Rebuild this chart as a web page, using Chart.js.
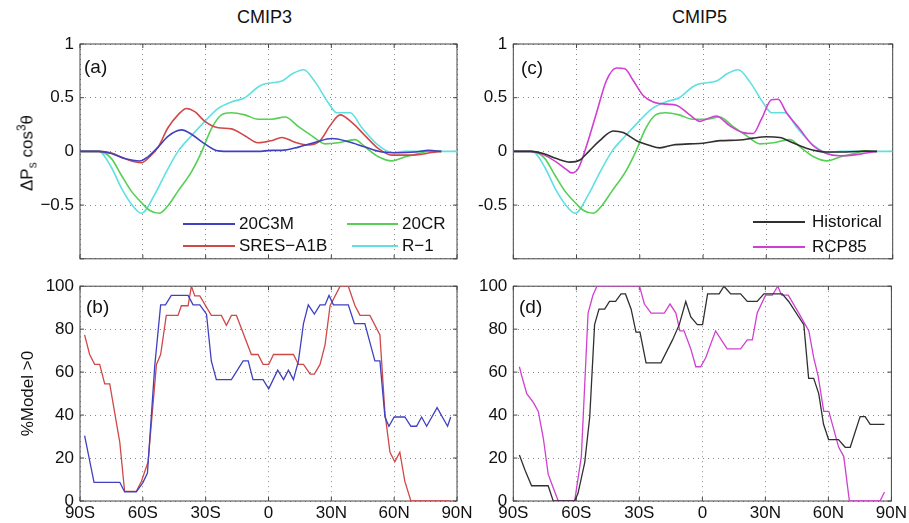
<!DOCTYPE html>
<html>
<head>
<meta charset="utf-8">
<script src="https://cdn.jsdelivr.net/npm/chart.js@4"></script>
<style>
  body { margin: 0; background: #fff; width: 909px; height: 523px; position: relative; overflow: hidden;
         font-family: "Liberation Sans", Arial, sans-serif; color: #111; }
  .box { position: absolute; }
  .txt { position: absolute; white-space: nowrap; line-height: 20px; }
  .key { position: absolute; height: 2px; }
  .ylab { position: absolute; transform: translate(-50%, -50%) rotate(-90deg); white-space: nowrap; font-size: 17px; }
  .ylab sub, .ylab sup { font-size: 12px; }
</style>
</head>
<body>

<div class="txt" style="left:237px;top:7px;font-size:18px">CMIP3</div>
<div class="txt" style="left:672px;top:7px;font-size:18px">CMIP5</div>

<div class="box" style="left:0;top:0"><canvas id="pa" width="480" height="275"></canvas></div>
<div class="box" style="left:440px;top:0"><canvas id="pc" width="469" height="275"></canvas></div>
<div class="box" style="left:0;top:270px"><canvas id="pb" width="480" height="253"></canvas></div>
<div class="box" style="left:440px;top:270px"><canvas id="pd" width="469" height="253"></canvas></div>

<div class="ylab" style="left:27px;top:153px">&Delta;P<sub>s</sub> cos<sup>3</sup>&theta;</div>

<div class="txt" style="left:84px;top:57px;font-size:19px">(a)</div>
<div class="txt" style="left:86px;top:297px;font-size:19px">(b)</div>
<div class="txt" style="left:521px;top:58px;font-size:19px">(c)</div>
<div class="txt" style="left:519px;top:297px;font-size:19px">(d)</div>

<!-- legend (a) -->
<div class="key" style="left:183px;top:223px;width:52px;background:#4040c0"></div>
<div class="txt" style="left:239px;top:214px;font-size:17px">20C3M</div>
<div class="key" style="left:347px;top:223px;width:51px;background:#55d055"></div>
<div class="txt" style="left:402px;top:214px;font-size:17px">20CR</div>
<div class="key" style="left:183px;top:245px;width:52px;background:#d04848"></div>
<div class="txt" style="left:239px;top:236px;font-size:17px">SRES&minus;A1B</div>
<div class="key" style="left:352px;top:245px;width:46px;background:#60e0e0"></div>
<div class="txt" style="left:402px;top:236px;font-size:17px">R&minus;1</div>

<!-- legend (c) -->
<div class="key" style="left:753px;top:221px;width:52px;background:#303030"></div>
<div class="txt" style="left:812px;top:212px;font-size:17px">Historical</div>
<div class="key" style="left:753px;top:246px;width:52px;background:#d040d0"></div>
<div class="txt" style="left:812px;top:237px;font-size:17px">RCP85</div>

<script>
// ---- panel (a)/(c): Delta Ps cos^3(theta) ----
const lat20C3M = [-90, -81, -75, -68.7, -61.5, -57.5, -52.7, -48, -41.6, -36.8, -30.4, -24, -17.7, -5, 1.4, 6.4, 14.3, 22.3, 30.3, 38.2, 46.2, 54.1, 62, 70, 76.5, 82.5];
const val20C3M = [0, 0, -0.02, -0.067, -0.09, -0.05, 0.04, 0.14, 0.2, 0.16, 0.07, 0.005, 0, 0, 0.01, 0.01, 0.04, 0.085, 0.12, 0.09, 0.04, -0.005, -0.012, -0.005, 0.01, 0];

const latA1B = [-90, -81, -75, -68.7, -60.7, -56.7, -52.7, -48, -43.2, -39.2, -35.2, -30.4, -24, -17.7, -11.3, -5, 1.4, 6.4, 12.7, 19, 24.6, 29.4, 34.2, 39.8, 46.2, 52.5, 58.9, 65.3, 71.7, 78, 82.5];
const valA1B = [0, 0, -0.015, -0.067, -0.106, -0.05, 0.04, 0.22, 0.34, 0.40, 0.37, 0.28, 0.22, 0.21, 0.145, 0.08, 0.1, 0.13, 0.085, 0.06, 0.1, 0.24, 0.34, 0.27, 0.145, 0.025, -0.035, -0.035, -0.03, -0.01, 0];

const lat20CR = [-90, -81, -75, -70.3, -65.5, -60.7, -56.7, -52, -48, -43.2, -36.8, -32, -27.3, -22.5, -17.7, -11.3, -5, 1.4, 7.9, 14.3, 20.7, 27, 33.4, 41.3, 46.2, 52.5, 58.9, 65.3, 71.7, 76.5, 82.5];
const val20CR = [0, 0, -0.067, -0.22, -0.37, -0.476, -0.55, -0.576, -0.506, -0.37, -0.19, -0.006, 0.21, 0.34, 0.36, 0.34, 0.30, 0.30, 0.32, 0.23, 0.145, 0.07, 0.08, 0.11, 0.04, -0.05, -0.088, -0.05, -0.02, 0.005, 0];

const latR1 = [-90, -81, -75, -70.3, -65.5, -60.7, -54.3, -49.6, -43.2, -36.8, -30.4, -24, -17.7, -11.3, -5, -1.6, 6.4, 11.2, 16.7, 22.3, 28.6, 32.6, 39, 44.6, 52.5, 58.9, 65, 90];
const valR1 = [0, 0, -0.15, -0.34, -0.49, -0.576, -0.4, -0.22, 0, 0.145, 0.28, 0.40, 0.46, 0.5, 0.6, 0.63, 0.655, 0.72, 0.76, 0.645, 0.45, 0.36, 0.36, 0.22, 0.055, -0.01, 0, 0];

const latHist = [-90, -82, -75.8, -69.5, -63.1, -58.4, -53.7, -49, -42.6, -37.9, -31.5, -25.2, -20.5, -14.2, -6.3, 0, 8, 17.4, 23.8, 30, 36.4, 42.6, 49, 58.5, 68, 77.4, 82.5];
const valHist = [0, 0, -0.02, -0.067, -0.10, -0.08, 0.01, 0.1, 0.19, 0.175, 0.1, 0.055, 0.033, 0.06, 0.07, 0.076, 0.1, 0.106, 0.124, 0.136, 0.13, 0.08, 0.03, -0.006, -0.006, 0.003, 0];

const latRcp = [-90, -82, -75.8, -69.5, -64.7, -62.4, -59.2, -55.2, -50.5, -45.8, -41, -37.1, -33.1, -28.4, -23.6, -17.3, -12.6, -6.3, -1.5, 1.6, 6.3, 12.6, 19, 23.8, 27.7, 32.5, 35.6, 39.6, 45.8, 52.1, 58.5, 64.8, 71.1, 77.4, 82.5];
const valRcp = [0, 0, -0.03, -0.1, -0.17, -0.2, -0.16, 0.055, 0.36, 0.66, 0.776, 0.77, 0.66, 0.52, 0.46, 0.44, 0.43, 0.34, 0.28, 0.30, 0.33, 0.24, 0.175, 0.167, 0.30, 0.48, 0.485, 0.36, 0.21, 0.055, -0.02, -0.04, -0.035, -0.015, 0];

// ---- panel (b)/(d): % of models > 0 ----
const latPct20C3M = [-87.8, -83.3, -71, -68.7, -63.1, -59.9, -57.8, -54.3, -51.5, -49.2, -46.4, -38.4, -36, -32.8, -29.6, -27.3, -24.9, -17.7, -12.1, -9.7, -7.4, -2.6, 0.1, 4.4, 7.2, 9.5, 11.9, 14.3, 16.7, 19, 21.9, 24.6, 27, 28.9, 31, 38.1, 41, 46, 50.8, 53.2, 55.6, 57.5, 60, 65.1, 68, 70.7, 73.1, 75.5, 80.5, 85.5, 87];
const pct20C3M = [30.4, 8.7, 8.7, 4.3, 4.3, 8.7, 13, 63, 91.3, 91.3, 95.7, 95.7, 91.3, 91.3, 87, 65.2, 56.5, 56.5, 65.2, 65.2, 56.5, 56.5, 52.2, 60.9, 56.5, 60.9, 56.5, 65.2, 82.6, 91.3, 87, 91.3, 91.3, 95.7, 91.3, 91.3, 82.6, 82.6, 65.2, 65.2, 39.1, 34.8, 39.1, 39.1, 34.8, 34.8, 39.1, 34.8, 43.5, 34.8, 39.1];

const latPctA1B = [-87.8, -85.4, -83, -80.6, -78.2, -75.8, -71, -68.7, -63.1, -60.7, -57.5, -53.5, -51.5, -48.8, -43.2, -41.6, -38.4, -36.8, -35.2, -32.8, -27.3, -22.5, -20.1, -17.7, -15.3, -8.2, -5, -2.6, 0.1, 2.4, 11.9, 14.3, 16.7, 19.9, 21.9, 24.6, 27, 29.4, 34.2, 38.1, 41.3, 43.7, 48.4, 53.2, 55.6, 58, 60.3, 62.7, 65.1, 68, 87];
const pctA1B = [77.3, 68.2, 63.6, 63.6, 54.5, 54.5, 27.3, 4.5, 4.5, 9.1, 18.2, 63.6, 68.2, 86.4, 86.4, 90.9, 90.9, 100, 95.5, 95.5, 86.4, 86.4, 81.8, 86.4, 86.4, 68.2, 68.2, 63.6, 63.6, 68.2, 68.2, 63.6, 63.6, 59.1, 59.1, 63.6, 72.7, 90.9, 100, 100, 90.9, 86.4, 86.4, 77.3, 40.9, 22.7, 18.2, 22.7, 9.1, 0, 0];

const latPctHist = [-87.1, -84.4, -81.3, -73.4, -71, -60.8, -59.2, -56, -53.6, -51.3, -49.2, -46.5, -44.2, -41.3, -38.7, -36.6, -33.9, -31.6, -29.7, -26.8, -19.7, -14.2, -11, -7.9, -5.5, -2.4, 0.1, 2.5, 5.6, 8, 10.3, 13.5, 18.2, 21.4, 26.1, 29.3, 38, 41.1, 48.3, 50.6, 53, 55.4, 57.7, 60.1, 64.8, 68, 70.4, 75.1, 77.5, 79.9, 86.7];
const pctHist = [21.4, 14.3, 7.1, 7.1, 0, 0, 3.6, 17.9, 39.3, 82.1, 89.3, 89.3, 92.9, 92.9, 96.4, 96.4, 89.3, 78.6, 78.6, 64.3, 64.3, 75, 82.1, 92.9, 85.7, 82.1, 82.1, 96.4, 96.4, 96.4, 100, 96.4, 96.4, 92.9, 92.9, 96.4, 96.4, 92.9, 82.1, 57.1, 57.1, 50, 35.7, 28.6, 28.6, 25, 25, 39.3, 39.3, 35.7, 35.7];

const latPctRcp = [-87.1, -86, -83.6, -80.4, -78.1, -75.7, -73.4, -71.8, -68.6, -60.8, -57.6, -54.4, -52.1, -50.2, -29.9, -27.6, -24.4, -18.1, -15.4, -12.6, -10.7, -8.7, -5.5, -3.1, -0.8, 1.6, 6.3, 11.8, 18.2, 21.4, 23.8, 26.1, 30.1, 33.3, 35.9, 37.7, 40.9, 45.9, 50.7, 53, 55.1, 57.8, 60.2, 64.9, 67.3, 70, 84.6, 86.7];
const pctRcp = [62.5, 58.3, 50, 45.8, 41.7, 29.2, 12.5, 8.3, 0, 0, 20.8, 87.5, 95.8, 100, 100, 91.7, 87.5, 87.5, 91.7, 87.5, 79.2, 79.2, 70.8, 62.5, 62.5, 66.7, 79.2, 70.8, 70.8, 75, 75, 87.5, 95.8, 95.8, 100, 95.8, 95.8, 87.5, 79.2, 66.7, 58.3, 41.7, 41.7, 25, 20.8, 0, 0, 4.2];

const FONT = '"Liberation Sans", Arial, sans-serif';
const BLUE = '#4040c0', RED = '#d04848', GREEN = '#55d055', CYAN = '#60e0e0', BLACK = '#303030', MAGENTA = '#d040d0';

function pts(xs, ys) { return xs.map((x, i) => ({ x: x, y: ys[i] })); }

function latLabel(v) {
  if (v < 0) return (-v) + 'S';
  if (v > 0) return v + 'N';
  return '0';
}

function series(label, xs, ys, color, smooth) {
  return {
    label: label, data: pts(xs, ys), borderColor: color, backgroundColor: color,
    borderWidth: smooth ? 1.6 : 1.3, pointRadius: 0,
    cubicInterpolationMode: smooth ? 'monotone' : 'default', tension: 0
  };
}

// box round the plot, with inward tick marks like the original
const frame = {
  id: 'frame',
  beforeDatasetsDraw(chart) {
    const { ctx, chartArea: a, scales } = chart;
    ctx.save();
    ctx.strokeStyle = '#454545';
    ctx.lineWidth = 1;
    ctx.strokeRect(a.left, a.top, a.right - a.left, a.bottom - a.top);
    ctx.beginPath();
    scales.x.ticks.forEach(t => {
      const p = scales.x.getPixelForValue(t.value);
      ctx.moveTo(p, a.bottom); ctx.lineTo(p, a.bottom - 4);
      ctx.moveTo(p, a.top); ctx.lineTo(p, a.top + 4);
    });
    scales.y.ticks.forEach(t => {
      const p = scales.y.getPixelForValue(t.value);
      ctx.moveTo(a.left, p); ctx.lineTo(a.left + 4, p);
      ctx.moveTo(a.right, p); ctx.lineTo(a.right - 4, p);
    });
    ctx.stroke();
    ctx.restore();
  }
};

function panel(id, datasets, cfg) {
  return new Chart(document.getElementById(id), {
    type: 'line',
    data: { datasets: datasets },
    options: {
      responsive: false,
      animation: false,
      layout: { padding: { top: cfg.padTop, right: cfg.padRight, left: 0, bottom: 0 } },
      plugins: { legend: { display: false }, tooltip: { enabled: false } },
      scales: {
        x: {
          type: 'linear', min: -90, max: 90,
          afterFit: s => { s.height = cfg.xHeight; },
          ticks: { display: cfg.showX, stepSize: 30, autoSkip: false, maxRotation: 0, padding: 2,
                   color: '#111', font: { size: 17, family: FONT }, callback: latLabel },
          grid: { color: '#8a8a8a', lineWidth: 1, drawTicks: false },
          border: { display: false, dash: [1, 4] }
        },
        y: {
          min: cfg.yMin, max: cfg.yMax,
          afterFit: s => { s.width = cfg.yWidth; },
          ticks: { stepSize: cfg.yStep, padding: 6, color: '#111', font: { size: 17, family: FONT },
                   callback: cfg.yFmt },
          title: cfg.yTitle ? { display: true, text: cfg.yTitle, color: '#111',
                                font: { size: 17, family: FONT }, padding: { top: 18, bottom: 0 } } : { display: false },
          grid: { color: '#8a8a8a', lineWidth: 1, drawTicks: false },
          border: { display: false, dash: [1, 4] }
        }
      }
    },
    plugins: [frame]
  });
}

const fmtA = v => v === -1 ? '' : (v < 0 ? '\u2212' + (-v) : String(v));
const fmtC = v => v === -1 ? '' : String(v);
const fmtPct = v => String(v);

panel('pa', [
  series('20C3M', lat20C3M, val20C3M, BLUE, true),
  series('SRES-A1B', latA1B, valA1B, RED, true),
  series('20CR', lat20CR, val20CR, GREEN, true),
  series('R-1', latR1, valR1, CYAN, true)
], { yMin: -1, yMax: 1, yStep: 0.5, yFmt: fmtA, yWidth: 80, padTop: 44, padRight: 23, xHeight: 13, showX: false });

panel('pc', [
  series('Historical', latHist, valHist, BLACK, true),
  series('RCP85', latRcp, valRcp, MAGENTA, true),
  series('20CR', lat20CR, val20CR, GREEN, true),
  series('R-1', latR1, valR1, CYAN, true)
], { yMin: -1, yMax: 1, yStep: 0.5, yFmt: fmtC, yWidth: 73.3, padTop: 44, padRight: 16.3, xHeight: 13, showX: false });

panel('pb', [
  series('20C3M', latPct20C3M, pct20C3M, BLUE, false),
  series('SRES-A1B', latPctA1B, pctA1B, RED, false)
], { yMin: 0, yMax: 100, yStep: 20, yFmt: fmtPct, yTitle: '%Model >0', yWidth: 80, padTop: 14.7, padRight: 23, xHeight: 22, showX: true });

panel('pd', [
  series('Historical', latPctHist, pctHist, BLACK, false),
  series('RCP85', latPctRcp, pctRcp, MAGENTA, false)
], { yMin: 0, yMax: 100, yStep: 20, yFmt: fmtPct, yWidth: 73.3, padTop: 14.7, padRight: 16.3, xHeight: 22, showX: true });
</script>
</body>
</html>
